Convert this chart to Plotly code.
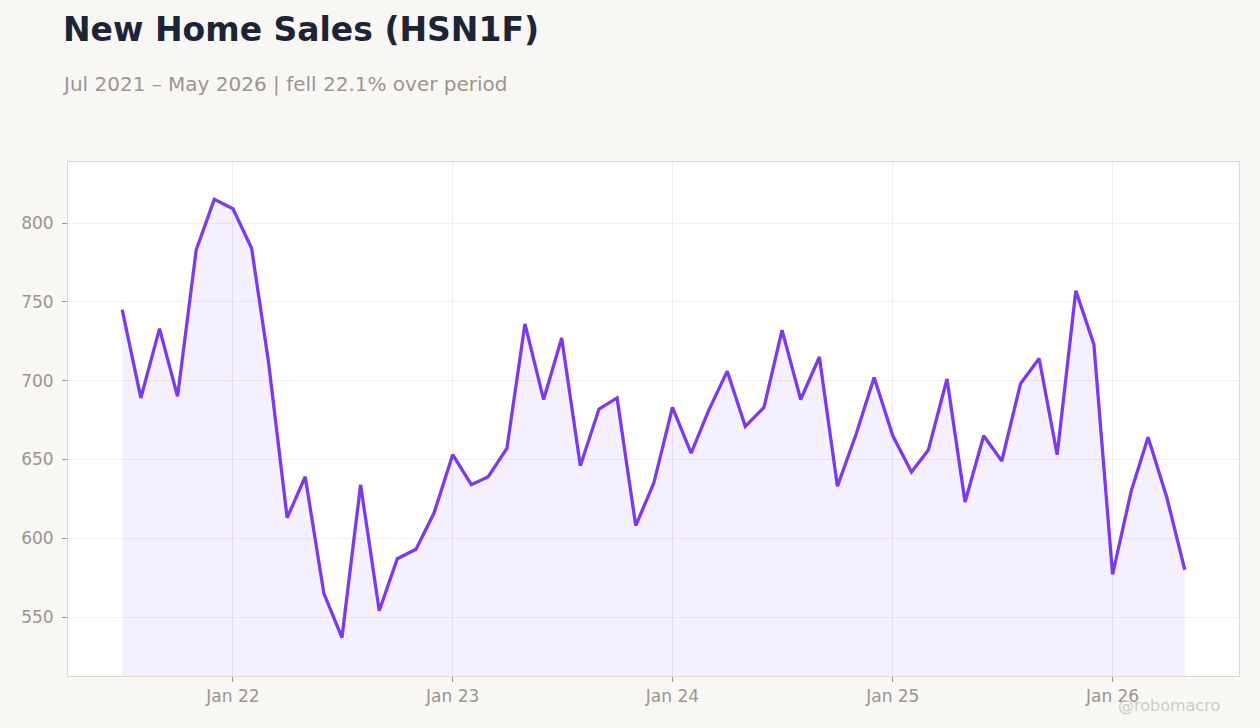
import plotly.graph_objects as go
import pandas as pd

# monthly new home sales, thousands (SAAR), Jul 2021 - May 2026
months = pd.date_range("2021-07-01", "2026-05-01", freq="MS")
sales = [745, 689, 733, 690, 783, 815, 809, 784, 712, 613,
         639, 565, 537, 634, 554, 587, 593, 616, 653, 634,
         639, 657, 736, 688, 727, 646, 682, 689, 608, 635,
         683, 654, 681, 706, 671, 683, 732, 688, 715, 633,
         666, 702, 665, 642, 656, 701, 623, 665, 649, 698,
         714, 653, 757, 723, 577, 630, 664, 626, 580]

tick_dates = ["2022-01-01", "2023-01-01", "2024-01-01", "2025-01-01", "2026-01-01"]
tick_text = ["Jan 22", "Jan 23", "Jan 24", "Jan 25", "Jan 26"]
y_ticks = [550, 600, 650, 700, 750, 800]

title = "New Home Sales (HSN1F)"
pct = (sales[-1] / sales[0] - 1) * 100
subtitle = f"Jul 2021 – May 2026 | fell {abs(pct):.1f}% over period"

purple = "#7c3aed"
grey = "#9a9690"
bg = "#f8f7f4"

fig = go.Figure()
fig.add_trace(go.Scatter(
    x=months,
    y=sales,
    mode="lines",
    line=dict(color=purple, width=3.3),
    fill="tozeroy",
    fillcolor="rgba(124,58,237,0.08)",
    showlegend=False))

# pad the x range by ~3 months on each side
x_lo = months[0] - pd.Timedelta(days=90)
x_hi = months[-1] + pd.Timedelta(days=90)

fig.update_layout(
    width=1260, height=728,
    paper_bgcolor=bg,
    plot_bgcolor="#ffffff",
    font=dict(family="DejaVu Sans", color=grey, size=17),
    margin=dict(l=68, r=21, t=162, b=52))

fig.add_annotation(text=f"<b>{title}</b>", xref="paper", yref="paper",
                   x=0, y=1, xshift=-7, yshift=111, xanchor="left", yanchor="bottom",
                   showarrow=False, font=dict(size=33, color="#1c2536"))
fig.add_annotation(text=subtitle, xref="paper", yref="paper",
                   x=0, y=1, xshift=-8, yshift=64, xanchor="left", yanchor="bottom",
                   showarrow=False, font=dict(size=20, color=grey))
fig.add_annotation(text="@robomacro", xref="paper", yref="paper",
                   x=1, y=0, xshift=-17, yshift=-18, xanchor="right", yanchor="top",
                   showarrow=False, font=dict(size=16, color="#cfcbc6"))

fig.update_xaxes(
    range=[x_lo, x_hi],
    tickvals=tick_dates, ticktext=tick_text,
    ticks="outside", ticklen=5, tickcolor=grey,
    showgrid=True, gridcolor="#efedf0",
    showline=True, linecolor="#ddd8d0", mirror=True, linewidth=1,
    zeroline=False)
fig.update_yaxes(
    range=[512.6, 838.7],
    tickvals=y_ticks,
    ticks="outside", ticklen=5, tickcolor=grey, ticklabelstandoff=5,
    showgrid=True, gridcolor="#efedf0",
    showline=True, linecolor="#ddd8d0", mirror=True, linewidth=1,
    zeroline=False)

fig.write_html("out.html",
               config={"displayModeBar": False},
               post_script=f"document.body.style.margin='0';document.body.style.background='{bg}';")
